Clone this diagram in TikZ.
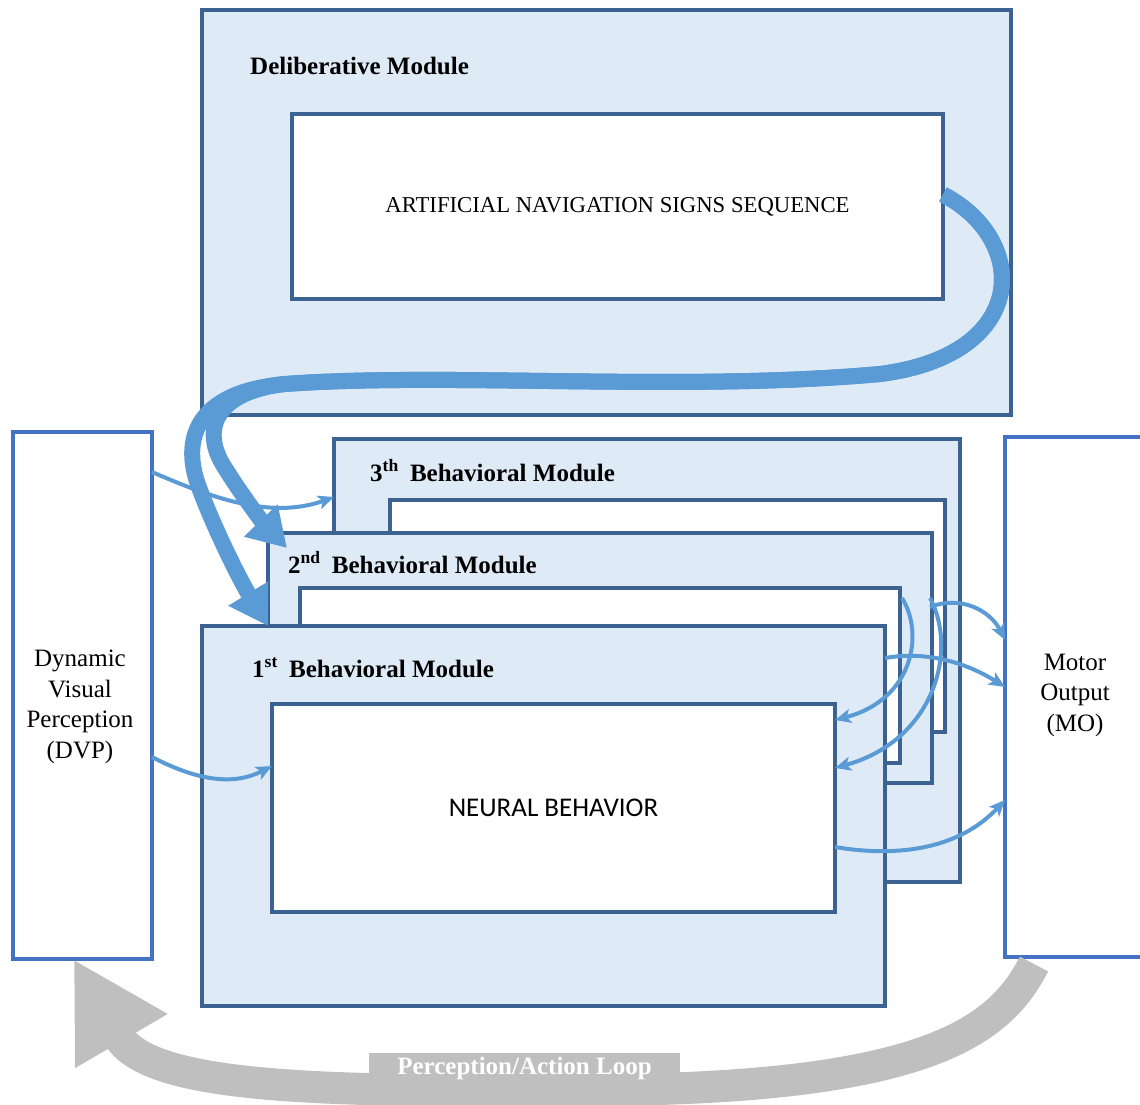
\documentclass[tikz,border=0pt]{standalone}
\usepackage{fontspec}
\setmainfont{LiberationSerif}[Extension=.ttf, UprightFont=*-Regular, BoldFont=*-Bold, ItalicFont=*-Italic, BoldItalicFont=*-BoldItalic]
\newfontfamily\calibri{Carlito}
\usepackage{tikz}
\usetikzlibrary{
    arrows.meta,
    positioning
}
\definecolor{modfill}{HTML}{DEEBF7}
\definecolor{modline}{HTML}{3B6291}
\definecolor{sideline}{HTML}{4472C4}
\definecolor{flowblue}{HTML}{5B9BD5}
\definecolor{loopgrey}{HTML}{BFBFBF}
\tikzset{
    modbox/.style={draw=modline, fill=modfill, line width=3.5pt, anchor=north west, inner sep=0pt, outer sep=0pt},
    innerbox/.style={draw=modline, fill=white, line width=3.5pt, anchor=north west, inner sep=0pt, outer sep=0pt},
    sidebox/.style={draw=sideline, fill=white, line width=3.5pt, anchor=north west, inner sep=0pt, outer sep=0pt},
    modlabel/.style={anchor=base west, inner sep=0pt, font=\fontsize{25}{30}\selectfont\bfseries},
    sidetext/.style={align=center, inner sep=0pt, font=\fontsize{25}{30.5}\selectfont},
    flow/.style={draw=flowblue, line width=4pt, -{Stealth[length=16pt,width=14pt,inset=4pt]}},
    bigflow/.style={draw=flowblue, line width=16pt, -{Triangle[length=38pt,width=44pt]}},
    loopflow/.style={draw=loopgrey, line width=32pt, -{Triangle[length=95pt,width=100pt]}}
}

\begin{document}
\begin{tikzpicture}[x=1pt, y=-1pt]
                            \clip (0, 0) rectangle (1140, 1104);
                            \node[modbox, minimum width=809pt, minimum height=405pt] (delib) at (202, 10) {};
                            \node[innerbox, minimum width=651pt, minimum height=185pt, font=\fontsize{22.7}{27}\selectfont] (anss) at (292, 114) {\raisebox{-2pt}{ARTIFICIAL NAVIGATION SIGNS SEQUENCE}};
                            \node[modlabel] (delibtxt) at (250, 74) {Deliberative Module};
                            \node[modbox, minimum width=626pt, minimum height=443pt] (b3) at (334, 439) {};
                            \node[innerbox, minimum width=555pt, minimum height=232pt] (b3in) at (390, 500) {};
                            \node[modlabel] (b3txt) at (370, 481) {3\textsuperscript{th}\hspace{0.45em}Behavioral Module};
                            \node[modbox, minimum width=664pt, minimum height=250pt] (b2) at (268, 533) {};
                            \node[innerbox, minimum width=600pt, minimum height=175pt] (b2in) at (300, 588) {};
                            \node[modlabel] (b2txt) at (288, 573) {2\textsuperscript{nd}\hspace{0.45em}Behavioral Module};
                            \node[modbox, minimum width=683pt, minimum height=380pt] (b1) at (202, 626) {};
                            \node[innerbox, minimum width=563pt, minimum height=208pt, font=\calibri\fontsize{27}{32}\selectfont] (b1in) at (272, 704) {NEURAL BEHAVIOR};
                            \node[modlabel] (b1txt) at (252, 677) {1\textsuperscript{st}\hspace{0.45em}Behavioral Module};
                            \node[sidebox, minimum width=139pt, minimum height=527pt] (dvp) at (13, 432) {};
                            \node[sidetext] (dvptxt) at (80, 707) {Dynamic\\Visual\\Perception\\(DVP)};
                            \node[sidebox, minimum width=145pt, minimum height=520pt] (mo) at (1005, 437) {};
                            \node[sidetext] (motxt) at (1075, 695) {Motor\\Output\\(MO)};
                            \draw[bigflow] ([yshift=12pt]anss.east) .. controls (1030, 240) and (1030, 355) .. (880, 374)
                                .. controls (680, 392) and (450, 372) .. (285, 384)
                                .. controls (195, 392) and (180, 440) .. (200, 490)
                                .. controls (215, 530) and (240, 580) .. ([xshift=66pt]b1.north west);
                            \draw[bigflow] ([yshift=12pt]anss.east) .. controls (1030, 240) and (1030, 355) .. (880, 374)
                                .. controls (680, 392) and (450, 372) .. (285, 384)
                                .. controls (215, 392) and (200, 430) .. (225, 468)
                                .. controls (245, 500) and (265, 525) .. ([shift={(19pt,-15pt)}]b2.north west);
                            \draw[flow] ([yshift=-40pt]dvp.north east) .. controls (210, 497) and (270, 520) .. ([yshift=-58pt]b3.north west);
                            \draw[flow] ([yshift=-325pt]dvp.north east) .. controls (200, 782) and (235, 785) .. ([yshift=-62pt]b1in.north west);
                            \draw[flow] ([shift={(2pt,-10pt)}]b2in.north east) .. controls (925, 635) and (912, 700) .. ([yshift=-16pt]b1in.north east);
                            \draw[flow] ([shift={(-2pt,-65pt)}]b2.north east) .. controls (958, 650) and (935, 740) .. ([yshift=-64pt]b1in.north east);
                            \draw[flow] ([shift={(-2pt,-74pt)}]b2.north east) .. controls (960, 595) and (990, 610) .. ([yshift=-203pt]mo.north west);
                            \draw[flow] ([yshift=-32pt]b1.north east) .. controls (930, 650) and (970, 665) .. ([yshift=-250pt]mo.north west);
                            \draw[flow] ([yshift=-143pt]b1in.north east) .. controls (900, 858) and (960, 848) .. ([yshift=-363pt]mo.north west);
                            \draw[loopflow] ([shift={(29pt,-7pt)}]mo.south west) .. controls (1000, 1030) and (930, 1088) .. (600, 1090)
                                .. controls (330, 1092) and (150, 1090) .. ([xshift=-9pt]dvp.south);
                            \node[fill=loopgrey, text=white, inner sep=0pt, minimum width=311pt, minimum height=31pt, font=\fontsize{25}{30}\selectfont\bfseries] (looptxt) at (524.5, 1068) {Perception/Action Loop};
                        \end{tikzpicture}
\end{document}
